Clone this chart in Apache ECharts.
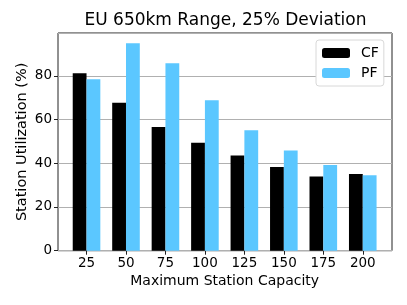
<!DOCTYPE html>
<html><head><meta charset="utf-8">
<script src="https://cdn.jsdelivr.net/npm/echarts@6/dist/echarts.min.js"></script>
<style>html,body{margin:0;padding:0;background:#fff}#c{width:407px;height:305px}</style>
</head><body><div id="c"></div>
<script>
const categories = ['25','50','75','100','125','150','175','200'];
const cfValues = [81.2, 67.7, 56.6, 49.4, 43.5, 38.3, 33.9, 35.1];
const pfValues = [78.4, 94.9, 85.8, 68.8, 55.1, 45.8, 39.2, 34.5];
const yTicks = [0, 20, 40, 60, 80];

const font = 'DejaVu Sans';
const chart = echarts.init(document.getElementById('c'), null, {renderer: 'canvas'});
const yMax = 99.6;
chart.setOption({
  animation: false,
  textStyle: {fontFamily: font},
  title: {
    text: 'EU 650km Range, 25% Deviation',
    left: 220.5, textAlign: 'center', top: 7,
    textStyle: {fontFamily: font, fontSize: 17, fontWeight: 'normal', color: '#000'}
  },
  legend: {
    data: ['CF', 'PF'],
    orient: 'vertical',
    left: 316, top: 40,
    padding: [6, 5, 6, 6],
    itemGap: 6,
    itemWidth: 28, itemHeight: 10,
    borderColor: '#d8d8d8', borderWidth: 1, borderRadius: 3,
    backgroundColor: '#fff',
    textStyle: {fontFamily: font, fontSize: 14, color: '#000', padding: [0, 0, 0, 6]}
  },
  grid: [
    {left: 66.8, width: 315.7, top: 33, height: 217.7},
    {left: 58, width: 334, top: 33, height: 217.7, show: true, borderColor: '#222', borderWidth: 1, backgroundColor: 'transparent', z: 0}
  ],
  xAxis: [
    {
      type: 'category', gridIndex: 0, data: categories,
      axisLine: {show: false},
      axisTick: {show: true, alignWithLabel: true, length: 4, lineStyle: {color: '#222'}},
      axisLabel: {fontFamily: font, fontSize: 13.5, color: '#000', margin: 6},
      name: 'Maximum Station Capacity', nameLocation: 'middle', nameGap: 24, nameMoveOverlap: false,
      nameTextStyle: {fontFamily: font, fontSize: 14, color: '#000'}
    },
    {type: 'value', gridIndex: 1, min: 0, max: 1, show: false}
  ],
  yAxis: [
    {type: 'value', gridIndex: 0, min: 0, max: yMax, interval: 20, show: false},
    {
      type: 'value', gridIndex: 1, min: 0, max: yMax, interval: 20,
      axisLine: {show: false},
      axisTick: {show: true, length: 4, lineStyle: {color: '#222'}},
      axisLabel: {fontFamily: font, fontSize: 13.5, color: '#000', margin: 6, showMaxLabel: false,
        formatter: v => yTicks.includes(v) ? String(v) : ''},
      splitLine: {show: true, lineStyle: {color: '#b0b0b0', width: 1}},
      name: 'Station Utilization (%)', nameLocation: 'middle', nameGap: 28, nameMoveOverlap: false,
      nameTextStyle: {fontFamily: font, fontSize: 14.5, color: '#000'}
    }
  ],
  series: [
    {name: 'CF', type: 'bar', xAxisIndex: 0, yAxisIndex: 0, data: cfValues, barWidth: 13.8, barGap: '0%',
      itemStyle: {color: '#000'}, z: 3},
    {name: 'PF', type: 'bar', xAxisIndex: 0, yAxisIndex: 0, data: pfValues, barWidth: 13.8, barGap: '0%',
      itemStyle: {color: '#5bc7ff'}, z: 3}
  ]
});
</script></body></html>
